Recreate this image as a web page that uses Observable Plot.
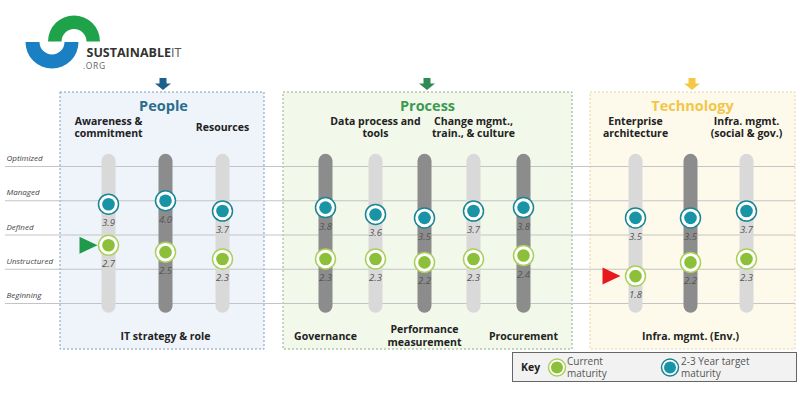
<!DOCTYPE html>
<html>
<head>
<meta charset="utf-8">
<script src="https://cdn.jsdelivr.net/npm/d3@7"></script>
<script src="https://cdn.jsdelivr.net/npm/@observablehq/plot@0.6"></script>
<style>
  html, body { margin: 0; padding: 0; background: #fff; }
  svg { display: block; }
</style>
</head>
<body>
<div id="chart"></div>
<script>
// ---------------- DATA ----------------
const columns = [
  "Awareness &\ncommitment", "IT strategy & role", "Resources",
  "Governance", "Data process and\ntools", "Performance\nmeasurement", "Change mgmt.,\ntrain., & culture", "Procurement",
  "Enterprise\narchitecture", "Infra. mgmt. (Env.)", "Infra. mgmt.\n(social & gov.)"
];
const pillars = ["People","People","People","Process","Process","Process","Process","Process","Technology","Technology","Technology"];
const current = [2.7, 2.5, 2.3, 2.3, 2.3, 2.2, 2.3, 2.4, 1.8, 2.2, 2.3];
const target  = [3.9, 4.0, 3.7, 3.8, 3.6, 3.5, 3.7, 3.8, 3.5, 3.5, 3.7];
const levelNames  = ["Beginning", "Unstructured", "Defined", "Managed", "Optimized"];
const levelValues = [1, 2, 3, 4, 5];
const pillarNames = ["People", "Process", "Technology"];
const flagGreen = ["Awareness &\ncommitment"];
const flagRed = ["Enterprise\narchitecture"];
const keyLabels = ["Current\nmaturity", "2-3 Year target\nmaturity"];

// ---------------- LAYOUT / STYLE ----------------
const colX = [108, 165, 222, 325, 375, 424, 473, 523, 635, 690, 746];
const labelSide = ["top","bottom","top","bottom","top","bottom","top","bottom","top","bottom","top"];
const panelX = {People: [60, 264], Process: [283, 572], Technology: [590, 795]};
const panelTitleX = {People: 163, Process: 427, Technology: 692};
const panelFill = {People: "#eef4fa", Process: "#f2f8ea", Technology: "#fdfaec"};
const panelStroke = {People: "#7f9cb8", Process: "#8fae86", Technology: "#e2d6a6"};
const titleColor = {People: "#2c6d8c", Process: "#3c9a55", Technology: "#f3c648"};

const rows = columns.map((name, i) => ({
  name, pillar: pillars[i], current: current[i], target: target[i], x: colX[i], side: labelSide[i]
}));
const levels = levelNames.map((name, i) => ({name, value: levelValues[i]}));
const panels = pillarNames.map(p => ({name: p, x1: panelX[p][0], x2: panelX[p][1], tx: panelTitleX[p]}));

const rightTriangle = {
  draw(ctx) { ctx.moveTo(-9, -8.5); ctx.lineTo(9, 0); ctx.lineTo(-9, 8.5); ctx.closePath(); }
};

const TEAL = "#1894a6", TEAL_EDGE = "#1a8595";
const GREEN = "#8cc03a", GREEN_EDGE = "#a9d05a";
const font = "'Open Sans', 'DejaVu Sans', sans-serif";

const chart = Plot.plot({
  width: 800,
  height: 418,
  margin: 0,
  x: {type: "linear", domain: [0, 800], range: [0, 800], axis: null},
  y: {type: "linear", domain: [1, 5], range: [303, 166], axis: null},
  style: {fontFamily: font, background: "#fff"},
  marks: [
    // panels
    Plot.rect(panels, {x1: "x1", x2: "x2", insetTop: 92, insetBottom: 69,
      fill: d => panelFill[d.name], stroke: d => panelStroke[d.name], strokeDasharray: "2,2", strokeWidth: 1}),
    // level lines
    Plot.ruleY(levels, {y: "value", x1: 5, x2: 795, stroke: "#c4c4c4", strokeWidth: 1}),
    Plot.text(levels, {x: 6, y: "value", dy: -8, text: "name", textAnchor: "start",
      fontStyle: "italic", fontSize: 8, fill: "#444"}),
    // tracks
    Plot.ruleX(rows.filter(d => d.side === "top"), {x: "x", y1: 0.92, y2: 5.15, stroke: "#d9d9d9", strokeWidth: 14, strokeLinecap: "round"}),
    Plot.ruleX(rows.filter(d => d.side === "bottom"), {x: "x", y1: 0.92, y2: 5.15, stroke: "#8c8c8c", strokeWidth: 14, strokeLinecap: "round"}),
    // flags
    Plot.dot(rows.filter(d => flagGreen.includes(d.name)), {x: "x", y: "current", dx: -20, symbol: rightTriangle, r: 5,
      fill: "#1f9a4b", stroke: "none"}),
    Plot.dot(rows.filter(d => flagRed.includes(d.name)), {x: "x", y: "current", dx: -24, symbol: rightTriangle, r: 5,
      fill: "#e8191c", stroke: "none"}),
    // target dots
    Plot.dot(rows, {x: "x", y: "target", r: 10, fill: "#fff", stroke: TEAL_EDGE, strokeWidth: 1.5}),
    Plot.dot(rows, {x: "x", y: "target", r: 6.3, fill: TEAL}),
    // current dots
    Plot.dot(rows, {x: "x", y: "current", r: 10, fill: "#fff", stroke: GREEN_EDGE, strokeWidth: 1.5}),
    Plot.dot(rows, {x: "x", y: "current", r: 6.3, fill: GREEN}),
    // value labels
    Plot.text(rows, {x: "x", y: "target", dy: 19, text: d => d.target.toFixed(1),
      fontStyle: "italic", fontSize: 9.5, fill: "#555"}),
    Plot.text(rows, {x: "x", y: "current", dy: 19, text: d => d.current.toFixed(1),
      fontStyle: "italic", fontSize: 9.5, fill: "#555"}),
    // column labels
    Plot.text(rows.filter(d => d.side === "top"), {x: "x", frameAnchor: "top", dy: 127, lineAnchor: "middle",
      text: "name", fontWeight: "bold", fontSize: 10.5, lineHeight: 1.1, fill: "#222"}),
    Plot.text(rows.filter(d => d.side === "bottom"), {x: "x", frameAnchor: "top", dy: 335, lineAnchor: "middle",
      text: "name", fontWeight: "bold", fontSize: 10.5, lineHeight: 1.2, fill: "#222"}),
    // panel titles
    Plot.text(panels, {x: "tx", frameAnchor: "top", dy: 106, lineAnchor: "middle", text: "name",
      fontWeight: "bold", fontSize: 14.5, fill: d => titleColor[d.name]})
  ]
});

document.getElementById("chart").appendChild(chart);
const svg = d3.select(chart);

// ---------------- decorations: logo, arrows, key ----------------
const deco = svg.append("g").attr("font-family", font).attr("text-anchor", "start");

// logo
const arc = d3.arc();
deco.append("path")
  .attr("transform", "translate(74,41.5)")
  .attr("d", arc({innerRadius: 12.5, outerRadius: 26, startAngle: -Math.PI / 2, endAngle: Math.PI / 2}))
  .attr("fill", "#1fa34a");
deco.append("path")
  .attr("transform", "translate(52,42)")
  .attr("d", arc({innerRadius: 12.5, outerRadius: 26.5, startAngle: Math.PI / 2, endAngle: 3 * Math.PI / 2}))
  .attr("fill", "#1b7fc4");
const logoText = deco.append("text").attr("x", 86.5).attr("y", 57).attr("font-size", 12.5);
logoText.append("tspan").attr("font-weight", "bold").attr("fill", "#333").text("SUSTAINABLE");
logoText.append("tspan").attr("fill", "#555").text("IT");
deco.append("text").attr("x", 83).attr("y", 68.5).attr("font-size", 8.5).attr("fill", "#666")
  .attr("letter-spacing", 0.6).text(".ORG");

// arrows above panels
const arrowColor = {People: "#1f5f8b", Process: "#2f8a55", Technology: "#f6c744"};
pillarNames.forEach(p => {
  const cx = panelTitleX[p];
  deco.append("path")
    .attr("d", `M${cx - 3.5},78 H${cx + 3.5} V83.5 H${cx + 8} L${cx},90 L${cx - 8},83.5 H${cx - 3.5} Z`)
    .attr("fill", arrowColor[p]);
});

// key
const key = deco.append("g");
key.append("rect").attr("x", 512.5).attr("y", 352.5).attr("width", 284).attr("height", 29)
  .attr("fill", "#f2f2f2").attr("stroke", "#666").attr("stroke-width", 1);
key.append("text").attr("x", 521).attr("y", 371).attr("font-size", 10.5).attr("font-weight", "bold")
  .attr("fill", "#222").text("Key");
const keyItems = [
  {cx: 557, fill: GREEN, edge: GREEN_EDGE, tx: 567, label: keyLabels[0]},
  {cx: 670, fill: TEAL, edge: TEAL_EDGE, tx: 681, label: keyLabels[1]}
];
keyItems.forEach(k => {
  key.append("circle").attr("cx", k.cx).attr("cy", 367.5).attr("r", 8.5)
    .attr("fill", "#fff").attr("stroke", k.edge).attr("stroke-width", 1.5);
  key.append("circle").attr("cx", k.cx).attr("cy", 367.5).attr("r", 6).attr("fill", k.fill);
  const t = key.append("text").attr("font-size", 10).attr("fill", "#555");
  k.label.split("\n").forEach((line, j) => {
    t.append("tspan").attr("x", k.tx).attr("y", 365 + j * 11.5).text(line);
  });
});
</script>
</body>
</html>
